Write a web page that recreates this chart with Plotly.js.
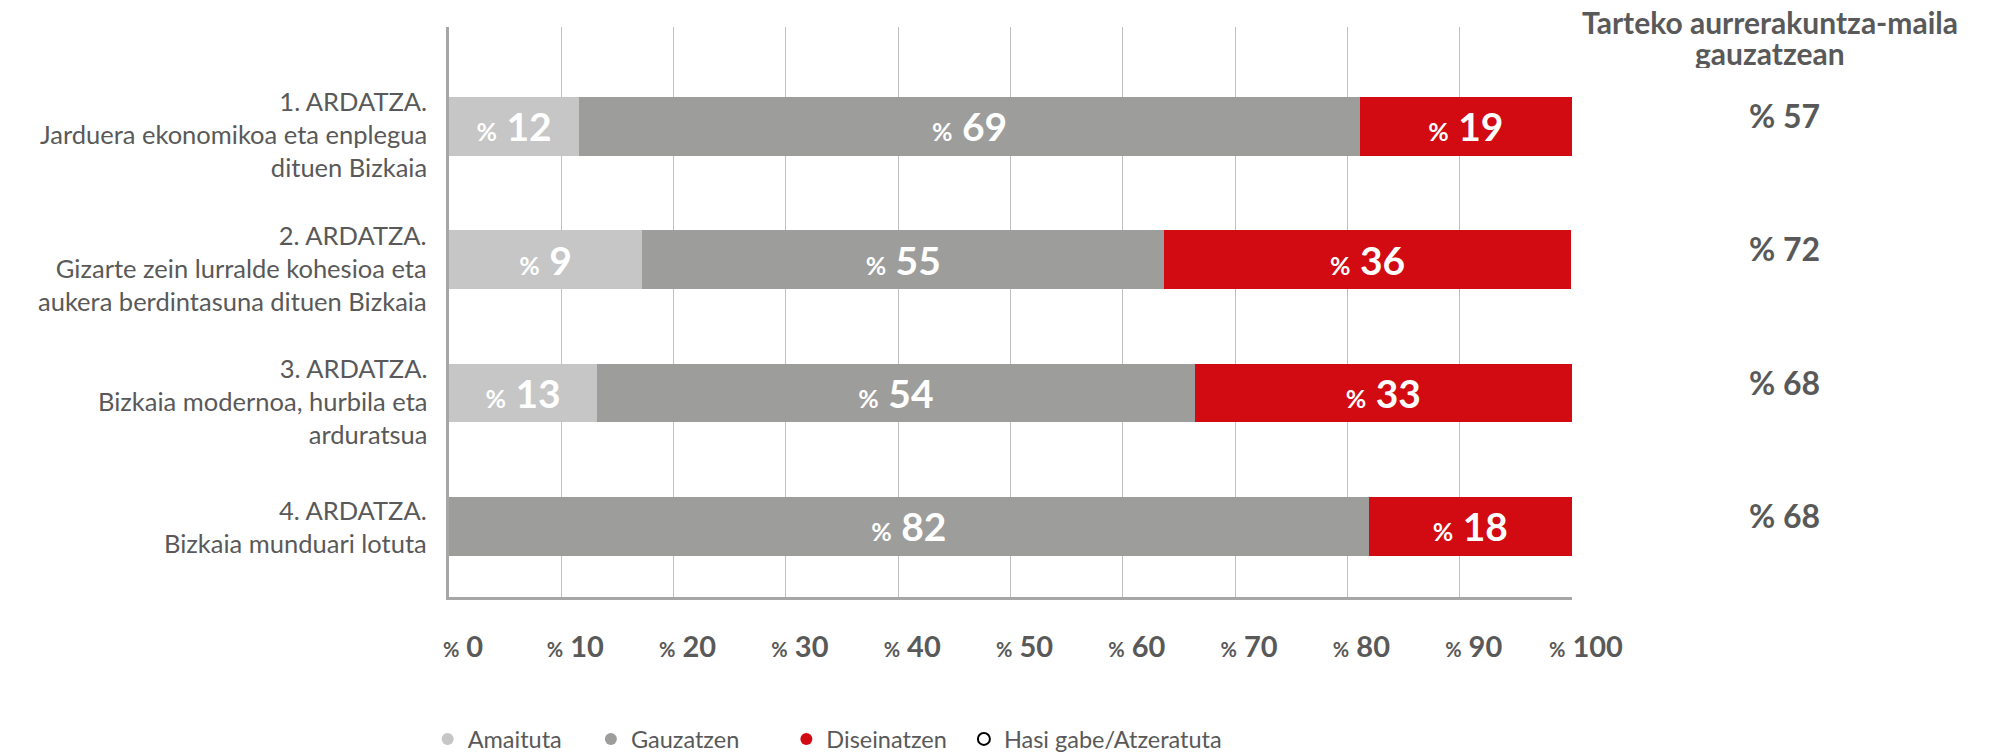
<!DOCTYPE html>
<html>
<head>
<meta charset="utf-8">
<script src="https://cdn.plot.ly/plotly-3.0.1.min.js"></script>
<style>html,body{margin:0;padding:0;background:#fff;}#chart{width:2013px;height:755px;}</style>
</head>
<body>
<div id="chart"></div>
<script>
// ---- data ----
const categories = [
  "1. ARDATZA.<br>Jarduera ekonomikoa eta enplegua<br>dituen Bizkaia",
  "2. ARDATZA.<br>Gizarte zein lurralde kohesioa eta<br>aukera berdintasuna dituen Bizkaia",
  "3. ARDATZA.<br>Bizkaia modernoa, hurbila eta<br>arduratsua",
  "4. ARDATZA.<br>Bizkaia munduari lotuta"
];
const amaitutaVals   = [11.6, 17.2, 13.2, 0];
const gauzatzenVals  = [69.5, 46.5, 53.2, 81.9];
const diseinatzenVals= [18.9, 36.2, 33.6, 18.1];
const amaitutaLbl    = ["12", "9", "13", ""];
const gauzatzenLbl   = ["69", "55", "54", "82"];
const diseinatzenLbl = ["19", "36", "33", "18"];
const progressVals   = ["57", "72", "68", "68"];
const progressTitle1 = "Tarteko aurrerakuntza-maila";
const progressTitle2 = "gauzatzean";
const seriesNames = ["Amaituta", "Gauzatzen", "Diseinatzen", "Hasi gabe/Atzeratuta"];
const tickVals = [0,10,20,30,40,50,60,70,80,90,100];
const tickNums = ["0","10","20","30","40","50","60","70","80","90","100"];

// ---- styles ----
const TXT = "#595959";
const colors = ["#c6c6c6", "#9d9d9c", "#d20a11", "#ffffff"];
const FONT = "Lato, 'Open Sans', sans-serif";
const legendPad = [4, 7, 2, 0];   // extra spacing after legend entries (nbsp count)

function pctLabel(n, small) {
  return n === "" ? "" : '<span style="font-size:' + small + 'px">%</span> ' + n;
}

function barTrace(vals, lbls, name, color) {
  return {
    type: "bar", orientation: "h", y: categories, x: vals, name: name,
    marker: {color: color, line: {width: 0}},
    text: lbls.map(l => pctLabel(l, 25)),
    textposition: "inside", insidetextanchor: "middle", constraintext: "none",
    textfont: {family: FONT, size: 39, color: "#ffffff", weight: 700},
    showlegend: false, hoverinfo: "skip"
  };
}

const traces = [
  barTrace(amaitutaVals, amaitutaLbl, seriesNames[0], colors[0]),
  barTrace(gauzatzenVals, gauzatzenLbl, seriesNames[1], colors[1]),
  barTrace(diseinatzenVals, diseinatzenLbl, seriesNames[2], colors[2])
];
// legend entries (circle markers)
seriesNames.forEach((nm, i) => {
  traces.push({
    type: "scatter", mode: "markers", x: [null], y: [null],
    name: nm + "\u00a0".repeat(legendPad[i]),
    marker: {symbol: "circle", size: 13, color: colors[i],
             line: {width: i === 3 ? 1.5 : 0, color: "#000000"}},
    showlegend: true, hoverinfo: "skip"
  });
});

const annotations = [
  {xref: "paper", yref: "paper", x: 1.176, y: 1.009, text: progressTitle1, showarrow: false,
   xanchor: "center", yanchor: "middle", height: 30,
   font: {family: FONT, size: 30, color: TXT, weight: 700}},
  {xref: "paper", yref: "paper", x: 1.176, y: 0.955, text: progressTitle2, showarrow: false,
   xanchor: "center", yanchor: "middle", height: 30,
   font: {family: FONT, size: 30, color: TXT, weight: 700}}
];
// category labels on the left
categories.forEach((c, i) => {
  const nLines = c.split("<br>").length;
  annotations.push({xref: "paper", yref: "y", x: 0, y: c, xanchor: "right", yanchor: "middle",
    xshift: -20, yshift: nLines >= 3 ? -8 : 0, align: "right", showarrow: false, text: c,
    font: {family: FONT, size: 25.5, color: TXT}});
});
progressVals.forEach((v, i) => {
  annotations.push({xref: "paper", yref: "y", x: 1.189, y: categories[i], yshift: 11,
    text: "% " + v, showarrow: false, xanchor: "center", yanchor: "middle",
    font: {family: FONT, size: 32, color: TXT, weight: 700}});
});

const layout = {
  width: 2013, height: 755,
  margin: {l: 449, r: 441, t: 27, b: 158, pad: 0, autoexpand: false},
  paper_bgcolor: "#ffffff", plot_bgcolor: "#ffffff",
  barmode: "stack", bargap: 0.56,
  font: {family: FONT, color: TXT},
  xaxis: {
    range: [0, 100], tickvals: tickVals,
    ticktext: tickNums.map(n => pctLabel(n, 20)),
    tickfont: {family: FONT, size: 29, color: TXT, weight: 700},
    showgrid: true, gridcolor: "#c0c0c0", gridwidth: 1,
    showline: true, linecolor: "#a6a6a6", linewidth: 3,
    ticks: "", zeroline: false, ticklabelstandoff: 22, ticklabelshift: 14,
    fixedrange: true
  },
  yaxis: {
    type: "category", categoryorder: "array", categoryarray: categories,
    range: [3.53, -0.746], showticklabels: false,
    showline: true, linecolor: "#a6a6a6", linewidth: 3,
    showgrid: false, ticks: "", zeroline: false,
    fixedrange: true
  },
  legend: {
    orientation: "h", traceorder: "normal",
    x: -0.019, xanchor: "left", xref: "paper",
    y: 0.021, yanchor: "middle", yref: "container",
    font: {family: FONT, size: 23.5, color: TXT},
    itemsizing: "constant",
    bgcolor: "rgba(0,0,0,0)"
  },
  annotations: annotations,
  showlegend: true
};

Plotly.newPlot("chart", traces, layout, {staticPlot: true, displayModeBar: false});
</script>
</body>
</html>
